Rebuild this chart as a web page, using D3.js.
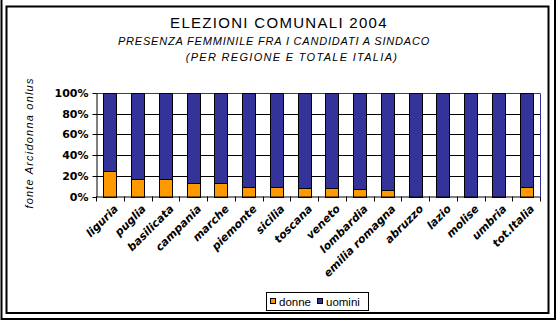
<!DOCTYPE html>
<html>
<head>
<meta charset="utf-8">
<script src="https://cdn.jsdelivr.net/npm/d3@7"></script>
<style>
  html, body { margin: 0; padding: 0; background: #fff; }
  svg { display: block; }
</style>
</head>
<body>
<svg id="chart" width="558" height="322"></svg>
<script>
const categories = ["liguria","puglia","basilicata","campania","marche","piemonte","sicilia","toscana","veneto","lombardia","emilia romagna","abruzzo","lazio","molise","umbria","tot.Italia"];
const donne = [25, 17, 16.5, 13, 13, 9, 9, 8, 8, 7, 6, 0, 0, 0, 0, 9];
const uomini = donne.map(d => 100 - d);
const yTicks = [0, 20, 40, 60, 80, 100];
const seriesNames = ["donne", "uomini"];
const seriesColors = ["#FF9900", "#333399"];

const svg = d3.select("#chart");

// borders
svg.append("rect").attr("x", 1.5).attr("y", -1).attr("width", 553.5).attr("height", 320)
  .attr("fill", "none").attr("stroke", "#000").attr("stroke-width", 2);
svg.append("rect").attr("x", 6.5).attr("y", 6.5).attr("width", 542).attr("height", 306.5)
  .attr("fill", "none").attr("stroke", "#000").attr("stroke-width", 2);

// titles
svg.append("text").attr("x", 279).attr("y", 28).attr("text-anchor", "middle")
  .attr("font-family", "Liberation Sans, Arial, sans-serif").attr("font-size", 15).attr("letter-spacing", 1.3)
  .text("ELEZIONI COMUNALI 2004");
svg.append("text").attr("x", 274).attr("y", 45).attr("text-anchor", "middle")
  .attr("font-family", "Liberation Sans, Arial, sans-serif").attr("font-size", 11).attr("font-style", "italic")
  .attr("letter-spacing", 0.8)
  .text("PRESENZA FEMMINILE FRA I CANDIDATI A SINDACO");
svg.append("text").attr("x", 292).attr("y", 61).attr("text-anchor", "middle")
  .attr("font-family", "Liberation Sans, Arial, sans-serif").attr("font-size", 11).attr("font-style", "italic")
  .attr("letter-spacing", 1.3)
  .text("(PER REGIONE E TOTALE ITALIA)");

const m = { left: 96, right: 540, top: 93, bottom: 196.5 };

const x = d3.scaleBand().domain(categories).range([m.left, m.right]).paddingInner(0.54).paddingOuter(0.27);
const xb = d3.scaleBand().domain(categories).range([m.left, m.right]);
const y = d3.scaleLinear().domain([0, 100]).range([m.bottom, m.top]);

// gridlines
svg.append("g").selectAll("line").data(yTicks.filter(t => t > 0 && t < 100)).join("line")
  .attr("x1", m.left).attr("x2", m.right).attr("y1", d => Math.round(y(d)) + 0.5).attr("y2", d => Math.round(y(d)) + 0.5)
  .attr("stroke", "#000").attr("stroke-width", 1);
// top & right border (navy)
svg.append("path")
  .attr("d", `M${m.left},${Math.round(y(100)) + 0.5}H${m.right + 0.5}V${m.bottom}`)
  .attr("fill", "none").attr("stroke", "#333399").attr("stroke-width", 1);

// stacked bars
const stackData = categories.map((c, i) => ({ cat: c, donne: donne[i], uomini: uomini[i] }));
const stack = d3.stack().keys(seriesNames)(stackData);
svg.append("g").selectAll("g").data(stack).join("g")
  .attr("fill", (d, i) => seriesColors[i])
  .selectAll("rect").data(d => d.filter(v => v[1] - v[0] > 0)).join("rect")
  .attr("x", d => Math.round(x(d.data.cat)) + 0.5)
  .attr("width", Math.round(x.bandwidth()))
  .attr("y", d => Math.round(y(d[1])) + 0.5)
  .attr("height", d => Math.round(y(d[0])) - Math.round(y(d[1])))
  .attr("stroke", "#000").attr("stroke-width", 1);

// y axis
const yAxis = svg.append("g").attr("transform", `translate(${m.left + 0.5},0)`)
  .call(d3.axisLeft(y).tickValues(yTicks).tickFormat(d => d + "%").tickSize(4).tickSizeOuter(0));
yAxis.select(".domain").attr("stroke", "#000");
yAxis.selectAll(".tick line").attr("stroke", "#000");
yAxis.selectAll("text").attr("font-family", "DejaVu Sans, Verdana, sans-serif").attr("font-size", 11)
  .attr("font-weight", "bold").attr("fill", "#000").attr("x", -8);
yAxis.selectAll(".tick").attr("transform", d => `translate(0,${Math.round(y(d)) + 0.5})`);

// x axis line + ticks at band boundaries
const xg = svg.append("g");
xg.append("line").attr("x1", m.left).attr("x2", m.right).attr("y1", m.bottom + 0.5).attr("y2", m.bottom + 0.5).attr("stroke", "#000");
xg.selectAll("line.t").data(categories.concat(["__end"])).join("line").attr("class", "t")
  .attr("x1", d => Math.round(d === "__end" ? m.right : xb(d)) + 0.5)
  .attr("x2", d => Math.round(d === "__end" ? m.right : xb(d)) + 0.5)
  .attr("y1", m.bottom).attr("y2", m.bottom + 5).attr("stroke", "#000");
xg.selectAll("text").data(categories).join("text")
  .attr("transform", d => `translate(${xb(d) + xb.bandwidth() / 2 + 9},${m.bottom + 13}) rotate(-45)`)
  .attr("text-anchor", "end")
  .attr("font-family", "DejaVu Sans, Verdana, sans-serif").attr("font-size", 11)
  .attr("font-weight", "bold").attr("font-style", "italic")
  .text(d => d);

// y label
svg.append("text").attr("transform", "translate(33,143) rotate(-90)")
  .attr("text-anchor", "middle")
  .attr("font-family", "Liberation Sans, Arial, sans-serif").attr("font-size", 11).attr("font-style", "italic")
  .attr("letter-spacing", 1.2)
  .text("fonte Arcidonna onlus");

// legend
const lg = svg.append("g");
lg.append("rect").attr("x", 266.5).attr("y", 292.5).attr("width", 102).attr("height", 18)
  .attr("fill", "#fff").attr("stroke", "#000");
const legX = [270, 317];
seriesNames.forEach((n, i) => {
  lg.append("rect").attr("x", legX[i] + 0.5).attr("y", 298.5).attr("width", 5).attr("height", 5)
    .attr("fill", seriesColors[i]).attr("stroke", "#000");
  lg.append("text").attr("x", legX[i] + 9).attr("y", 306)
    .attr("font-family", "Liberation Sans, Arial, sans-serif").attr("font-size", 11.5)
    .text(n);
});
</script>
</body>
</html>
